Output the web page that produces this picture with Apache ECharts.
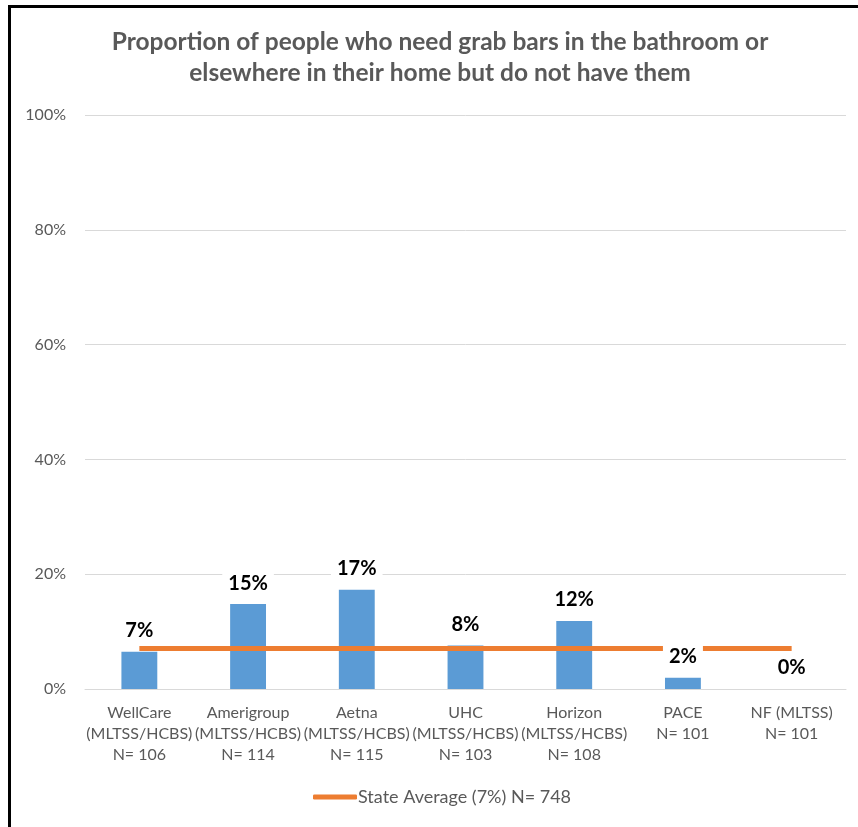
<!DOCTYPE html>
<html>
<head>
<meta charset="utf-8">
<script src="https://cdn.jsdelivr.net/npm/echarts@6/dist/echarts.min.js"></script>
<style>
html,body{margin:0;padding:0;background:#fff;}
#chart{width:858px;height:827px;}
</style>
</head>
<body>
<div id="chart"></div>
<script>
var titleText = 'Proportion of people who need grab bars in the bathroom or\nelsewhere in their home but do not have them';
var categories = [
  'WellCare\n(MLTSS/HCBS)\nN= 106',
  'Amerigroup\n(MLTSS/HCBS)\nN= 114',
  'Aetna\n(MLTSS/HCBS)\nN= 115',
  'UHC\n(MLTSS/HCBS)\nN= 103',
  'Horizon\n(MLTSS/HCBS)\nN= 108',
  'PACE\nN= 101',
  'NF (MLTSS)\nN= 101'
];
var planValues = [6.5, 14.8, 17.3, 7.6, 11.85, 1.97, 0];
var stateAverage = [7.05, 7.05, 7.05, 7.05, 7.05, 7.05, 7.05];
var stateName = 'State Average (7%) N= 748';
var yTicks = [0, 20, 40, 60, 80, 100];

var FONT = 'Lato';
var chart = echarts.init(document.getElementById('chart'));
chart.setOption({
  animation: false,
  backgroundColor: '#fff',
  title: {
    text: titleText,
    left: 440,
    top: 22,
    textAlign: 'center',
    padding: [5, 0, 5, 0],
    textStyle: {fontFamily: FONT, fontSize: 24.5, fontWeight: 'bold', color: '#595959', lineHeight: 31}
  },
  graphic: [
    {type: 'rect', shape: {x: 8, y: 5, width: 850, height: 3}, style: {fill: '#000'}},
    {type: 'rect', shape: {x: 8, y: 5, width: 3, height: 822}, style: {fill: '#000'}}
  ],
  legend: {
    bottom: 16,
    left: 308,
    itemWidth: 44,
    itemHeight: 5,
    itemGap: 10,
    icon: 'roundRect',
    data: [{name: stateName}],
    textStyle: {fontFamily: FONT, fontSize: 18, color: '#595959', padding: [0, 0, 0, -4]}
  },
  grid: {left: 85, right: 12, top: 115, bottom: 138, containLabel: false},
  xAxis: {
    type: 'category',
    data: categories,
    axisTick: {show: false},
    axisLine: {lineStyle: {color: '#d9d9d9', width: 1}},
    axisLabel: {fontFamily: FONT, fontSize: 16, color: '#595959', lineHeight: 21, margin: 13, interval: 0}
  },
  yAxis: {
    type: 'value',
    min: 0, max: 100, interval: 20,
    axisLine: {show: false},
    axisTick: {show: false},
    splitLine: {lineStyle: {color: '#d9d9d9', width: 1}},
    axisLabel: {fontFamily: FONT, fontSize: 16, color: '#595959', margin: 19,
      formatter: function (v) { return yTicks.indexOf(v) >= 0 ? v + '%' : ''; }}
  },
  series: [
    {
      name: 'Plans',
      type: 'bar',
      data: planValues,
      barWidth: '33%',
      z: 2,
      itemStyle: {color: '#5B9BD5'}
    },
    {
      name: stateName,
      type: 'line',
      data: stateAverage,
      z: 3,
      symbol: 'none',
      lineStyle: {color: '#ED7D31', width: 5},
      itemStyle: {color: '#ED7D31'}
    },
    {
      name: 'labels',
      type: 'bar',
      data: planValues,
      barWidth: '33%',
      barGap: '-100%',
      z: 4,
      silent: true,
      itemStyle: {color: 'rgba(0,0,0,0)'},
      label: {
        show: true,
        position: 'top',
        distance: 9,
        backgroundColor: '#fff',
        padding: [2, 6],
        fontFamily: FONT,
        fontSize: 20,
        fontWeight: 'bold',
        color: '#000',
        formatter: function (p) { return Math.round(p.value) + '%'; }
      }
    }
  ]
});
</script>
</body>
</html>
